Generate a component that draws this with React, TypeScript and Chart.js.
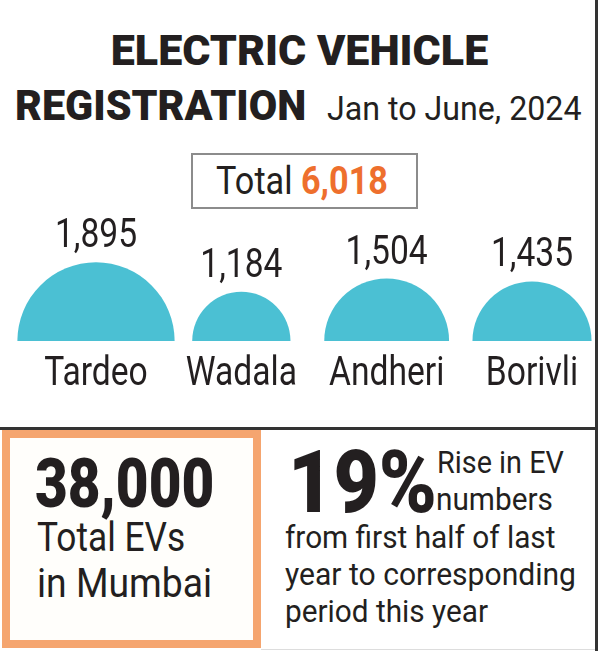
import React, { useEffect, useRef } from 'react';
import { Chart, registerables } from 'chart.js';

Chart.register(...registerables);

// ---- data ----
const categories = ['Tardeo', 'Wadala', 'Andheri', 'Borivli'];
const registrations = [1895, 1184, 1504, 1435];
const valueLabels = ['1,895', '1,184', '1,504', '1,435'];
const totalLabel = '6,018';
const totalEVs = '38,000';
const risePct = '19%';

// ---- style ----
const INK = '#231f20';
const CYAN = '#4bc0d3';
const ORANGE = '#ee6f2d';
const ORANGE_LIGHT = '#f5a56f';
const FONT = 'Roboto, "Liberation Sans", Arial, sans-serif';
const PX_PER_UNIT = 0.0415; // bubble radius (px) per registration

function drawCondensed(ctx: CanvasRenderingContext2D, text: string, x: number, y: number, font: string, sx: number) {
  ctx.save();
  ctx.translate(x, y);
  ctx.scale(sx, 1);
  ctx.font = font;
  ctx.textAlign = 'center';
  ctx.textBaseline = 'alphabetic';
  ctx.fillStyle = INK;
  ctx.fillText(text, 0, 0);
  ctx.restore();
}

const labelPlugin = {
  id: 'semiLabels',
  afterDatasetsDraw(chart: any) {
    const ctx = chart.ctx as CanvasRenderingContext2D;
    const meta = chart.getDatasetMeta(0);
    const area = chart.chartArea;
    meta.data.forEach((el: any, i: number) => {
      const r = el.options.radius;
      drawCondensed(ctx, valueLabels[i], el.x, el.y - r - 15, `400 40px ${FONT}`, 0.84);
      drawCondensed(ctx, categories[i], el.x, area.bottom + 44, `400 41px ${FONT}`, 0.82);
    });
  },
};

function SemiChart() {
  const ref = useRef<HTMLCanvasElement | null>(null);
  useEffect(() => {
    if (!ref.current) return;
    const chart = new Chart(ref.current, {
      type: 'bubble',
      data: {
        labels: categories,
        datasets: [
          {
            data: registrations.map((v, i) => ({ x: categories[i], y: 0, r: v * PX_PER_UNIT })),
            backgroundColor: CYAN,
            borderWidth: 0,
            hoverBorderWidth: 0,
            clip: { left: false, top: false, right: false, bottom: 0 } as any,
          },
        ],
      },
      options: {
        responsive: false,
        animation: false,
        events: [],
        layout: { autoPadding: false, padding: { left: 96, right: 68, top: 0, bottom: 59 } },
        scales: {
          x: { type: 'category', offset: false, display: false },
          y: { type: 'linear', min: 0, max: 1, display: false },
        },
        plugins: { legend: { display: false }, tooltip: { enabled: false } },
      },
      plugins: [labelPlugin],
    });
    return () => chart.destroy();
  }, []);
  return (
    <canvas
      ref={ref}
      width={600}
      height={200}
      style={{ position: 'absolute', left: 0, top: 200, width: 600, height: 200 }}
    />
  );
}

type TxtProps = {
  x: number;
  base: number;
  size: number;
  weight?: number;
  color?: string;
  sx?: number;
  align?: 'left' | 'center';
  children: React.ReactNode;
};

function Txt({ x, base, size, weight = 400, color = INK, sx = 1, align = 'left', children }: TxtProps) {
  const top = base - 0.842 * size;
  const centered = align === 'center';
  return (
    <div
      style={{
        position: 'absolute',
        left: centered ? x - 300 : x,
        width: centered ? 600 : undefined,
        textAlign: align,
        top,
        fontSize: size,
        lineHeight: `${size}px`,
        fontWeight: weight,
        fontFamily: FONT,
        color,
        whiteSpace: 'nowrap',
        transform: `scaleX(${sx})`,
        transformOrigin: centered ? 'center center' : 'left center',
      }}
    >
      {children}
    </div>
  );
}

export default function App() {
  return (
    <div
      style={{
        position: 'absolute',
        left: 0,
        top: 0,
        width: 600,
        height: 651,
        background: '#ffffff',
        overflow: 'hidden',
      }}
    >
      {/* frame lines */}
      <div style={{ position: 'absolute', left: 595, top: 0, width: 3, height: 651, background: '#333' }} />
      <div style={{ position: 'absolute', left: 0, top: 427, width: 598, height: 3, background: '#333' }} />
      <div style={{ position: 'absolute', left: 261, top: 649, width: 334, height: 1, background: '#ddd' }} />

      {/* title */}
      <Txt x={299.5} base={65} size={43} weight={900} sx={1.0} align="center">
        ELECTRIC VEHICLE
      </Txt>
      <Txt x={15} base={120} size={43} weight={900} sx={0.96}>
        REGISTRATION
      </Txt>
      <Txt x={327} base={120} size={32.5} sx={0.99}>
        Jan to June, 2024
      </Txt>

      {/* total box */}
      <div
        style={{
          position: 'absolute',
          left: 191,
          top: 153,
          width: 227,
          height: 56,
          border: '2px solid #8c8c8c',
          boxSizing: 'border-box',
        }}
      />
      <Txt x={302} base={194} size={38} sx={0.9} align="center">
        Total <span style={{ color: ORANGE, fontWeight: 700 }}>{totalLabel}</span>
      </Txt>

      <SemiChart />

      {/* bottom-left box */}
      <div
        style={{
          position: 'absolute',
          left: 2,
          top: 430,
          width: 259,
          height: 218,
          border: `8px solid ${ORANGE_LIGHT}`,
          boxSizing: 'border-box',
          background: '#fffefb',
        }}
      />
      <Txt x={35} base={507} size={69} weight={900} sx={0.82}>
        {totalEVs}
      </Txt>
      <Txt x={37} base={552} size={41} sx={0.86}>
        Total EVs
      </Txt>
      <Txt x={37} base={598} size={41} sx={0.91}>
        in Mumbai
      </Txt>

      {/* bottom-right box */}
      <Txt x={288} base={512} size={87} weight={900} sx={0.9}>
        {risePct}
      </Txt>
      <Txt x={437} base={473} size={31} sx={0.93}>
        Rise in EV
      </Txt>
      <Txt x={436} base={510} size={31} sx={0.96}>
        numbers
      </Txt>
      <Txt x={285} base={548} size={31} sx={0.96}>
        from first half of last
      </Txt>
      <Txt x={285} base={585} size={31} sx={0.97}>
        year to corresponding
      </Txt>
      <Txt x={285} base={622} size={31} sx={0.96}>
        period this year
      </Txt>
    </div>
  );
}
